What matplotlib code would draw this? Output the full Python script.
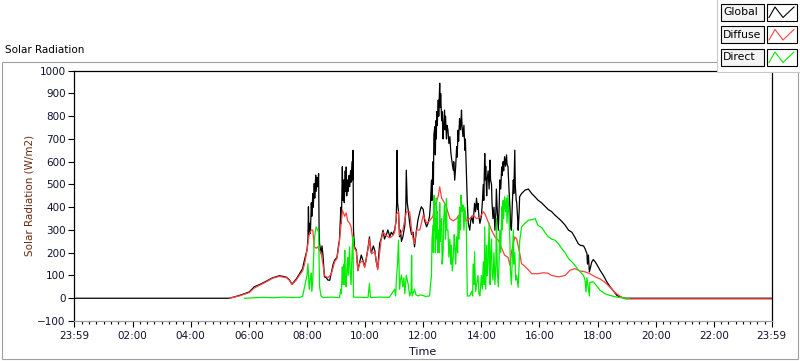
import numpy as np
import matplotlib.pyplot as plt
from matplotlib.patches import Rectangle
from matplotlib.lines import Line2D

plt.rcParams['font.family'] = ['DejaVu Sans']

# values (W/m2), times of day
glob_t = ["00:00", "05:20", "05:40", "05:51", "06:01", "06:11", "06:22", "06:36", "06:49", "07:03",
          "07:13", "07:18", "07:24", "07:29", "07:38", "07:44", "07:51", "07:55", "08:00", "08:02",
          "08:03", "08:04", "08:06", "08:07", "08:09", "08:10", "08:12", "08:13", "08:15", "08:16",
          "08:18", "08:19", "08:21", "08:22", "08:24", "08:25", "08:26", "08:29", "08:31", "08:33",
          "08:36", "08:40", "08:43", "08:47", "08:50", "08:54", "08:57", "09:02", "09:05", "09:07",
          "09:10", "09:11", "09:13", "09:14", "09:16", "09:17", "09:19", "09:20", "09:21", "09:22",
          "09:24", "09:25", "09:27", "09:28", "09:30", "09:31", "09:33", "09:34", "09:35", "09:36",
          "09:38", "09:42", "09:45", "09:49", "09:52", "09:55", "09:59", "10:02", "10:06", "10:09",
          "10:11", "10:13", "10:17", "10:20", "10:23", "10:26", "10:30", "10:33", "10:37", "10:40",
          "10:44", "10:47", "10:51", "10:54", "10:57", "11:01", "11:04", "11:05", "11:06", "11:07",
          "11:09", "11:11", "11:13", "11:15", "11:18", "11:22", "11:24", "11:25", "11:27", "11:29",
          "11:32", "11:34", "11:36", "11:39", "11:42", "11:45", "11:49", "11:53", "11:56", "12:00",
          "12:03", "12:07", "12:10", "12:13", "12:15", "12:17", "12:18", "12:20", "12:21", "12:22",
          "12:24", "12:25", "12:26", "12:27", "12:28", "12:29", "12:31", "12:32", "12:34", "12:35",
          "12:36", "12:38", "12:39", "12:41", "12:42", "12:44", "12:45", "12:46", "12:48", "12:49",
          "12:51", "12:53", "12:55", "12:57", "12:58", "13:00", "13:02", "13:03", "13:05", "13:07",
          "13:09", "13:10", "13:12", "13:13", "13:15", "13:17", "13:19", "13:20", "13:22", "13:24",
          "13:26", "13:27", "13:29", "13:31", "13:33", "13:36", "13:38", "13:40", "13:43", "13:46",
          "13:48", "13:50", "13:52", "13:53", "13:55", "13:57", "14:00", "14:02", "14:04", "14:05",
          "14:07", "14:08", "14:09", "14:11", "14:12", "14:14", "14:16", "14:18", "14:19", "14:21",
          "14:22", "14:24", "14:26", "14:28", "14:30", "14:31", "14:33", "14:35", "14:37", "14:38",
          "14:40", "14:42", "14:43", "14:45", "14:46", "14:48", "14:50", "14:52", "14:53", "14:55",
          "14:57", "14:59", "15:00", "15:02", "15:04", "15:06", "15:07", "15:09", "15:10", "15:12",
          "15:13", "15:15", "15:16", "15:18", "15:19", "15:23", "15:30", "15:37", "15:44", "15:51",
          "15:57", "16:05", "16:11", "16:18", "16:25", "16:32", "16:39", "16:46", "16:53", "17:00",
          "17:07", "17:13", "17:20", "17:24", "17:31", "17:34", "17:38", "17:39", "17:41", "17:43",
          "17:48", "17:51", "17:55", "17:58", "18:05", "18:12", "18:19", "18:26", "18:33", "18:40",
          "18:47", "18:57", "19:07", "23:59"]
glob_v = [0, 0, 12, 20, 28, 50, 60, 75, 90, 99,
          95, 92, 80, 62, 85, 106, 130, 170, 211, 260,
          402, 280, 330, 286, 420, 360, 460, 400, 504, 440,
          541, 470, 530, 490, 548, 300, 240, 197, 230, 190,
          94, 90, 80, 79, 110, 150, 167, 180, 230, 255,
          400, 330, 578, 430, 520, 420, 560, 470, 577, 450,
          520, 470, 540, 490, 560, 510, 600, 520, 650, 300,
          226, 211, 123, 160, 190, 170, 140, 170, 220, 270,
          220, 200, 230, 210, 160, 130, 240, 260, 299, 260,
          280, 300, 270, 290, 280, 300, 340, 416, 650, 420,
          380, 270, 300, 250, 270, 320, 400, 563, 420, 387,
          330, 300, 280, 290, 226, 280, 343, 380, 402, 390,
          340, 314, 330, 360, 420, 519, 430, 600, 500, 720,
          754, 630, 780, 700, 820, 760, 871, 800, 945, 840,
          900, 780, 820, 700, 760, 827, 740, 800, 700, 760,
          740, 680, 710, 640, 622, 590, 563, 600, 519, 580,
          666, 620, 739, 690, 790, 740, 827, 760, 710, 760,
          650, 700, 560, 420, 329, 299, 340, 360, 329, 417,
          380, 440, 390, 417, 360, 329, 360, 420, 500, 430,
          636, 520, 580, 450, 520, 560, 480, 607, 520, 500,
          420, 350, 400, 299, 380, 480, 380, 299, 420, 520,
          480, 577, 540, 600, 560, 622, 580, 630, 590, 577,
          480, 400, 330, 299, 420, 520, 460, 651, 500, 430,
          420, 350, 299, 380, 446, 460, 475, 480, 460, 445,
          431, 418, 405, 390, 381, 365, 352, 338, 321, 299,
          290, 268, 240, 233, 230, 218, 196, 150, 190, 116,
          160, 170, 160, 150, 123, 100, 72, 50, 31, 12,
          5, 0, 0, 0]

diff_t = ["05:20", "05:40", "05:51", "06:01", "06:11", "06:22", "06:36", "06:49", "07:03", "07:13",
          "07:18", "07:24", "07:29", "07:38", "07:44", "07:51", "07:55", "08:00", "08:05", "08:09",
          "08:12", "08:15", "08:19", "08:22", "08:26", "08:29", "08:33", "08:36", "08:43", "08:50",
          "08:57", "09:02", "09:07", "09:13", "09:18", "09:21", "09:24", "09:28", "09:31", "09:35",
          "09:38", "09:42", "09:45", "09:49", "09:55", "09:59", "10:02", "10:09", "10:13", "10:20",
          "10:26", "10:33", "10:37", "10:44", "10:51", "10:57", "11:01", "11:05", "11:09", "11:11",
          "11:18", "11:25", "11:32", "11:36", "11:39", "11:42", "11:46", "11:53", "12:00", "12:07",
          "12:13", "12:20", "12:24", "12:27", "12:31", "12:34", "12:38", "12:41", "12:48", "12:55",
          "13:02", "13:09", "13:15", "13:22", "13:26", "13:29", "13:36", "13:43", "13:50", "13:57",
          "14:04", "14:07", "14:14", "14:21", "14:28", "14:35", "14:42", "14:48", "14:55", "14:59",
          "15:02", "15:09", "15:13", "15:16", "15:19", "15:23", "15:30", "15:37", "15:44", "15:57",
          "16:08", "16:18", "16:25", "16:39", "16:53", "17:03", "17:13", "17:24", "17:34", "17:44",
          "17:55", "18:05", "18:15", "18:26", "18:36", "18:47", "18:57", "23:59"]
diff_v = [0, 10, 18, 25, 45, 57, 72, 88, 96, 92,
          90, 78, 60, 80, 100, 120, 150, 211, 285, 300,
          300, 226, 220, 226, 210, 200, 150, 100, 90, 105,
          160, 175, 250, 387, 360, 375, 340, 330, 314, 250,
          220, 205, 120, 155, 165, 135, 165, 260, 195, 205,
          125, 255, 290, 275, 265, 275, 290, 370, 380, 277,
          300, 380, 380, 300, 262, 240, 300, 300, 365, 330,
          340, 360, 410, 420, 450, 490, 440, 430, 400, 350,
          340, 350, 370, 395, 380, 340, 350, 365, 350, 355,
          380, 373, 336, 299, 270, 255, 220, 189, 180, 145,
          200, 270, 260, 230, 200, 152, 140, 125, 108, 108,
          112, 110, 100, 94, 100, 123, 130, 120, 116, 108,
          94, 85, 70, 48, 25, 8, -3, -3]

dir_t = ["05:51", "06:10", "06:30", "06:50", "07:10", "07:30", "07:45", "07:51", "07:55", "08:00",
         "08:02", "08:04", "08:05", "08:07", "08:09", "08:10", "08:12", "08:14", "08:15", "08:17",
         "08:19", "08:22", "08:24", "08:26", "08:29", "08:33", "08:50", "09:07", "09:10", "09:11",
         "09:13", "09:14", "09:16", "09:17", "09:18", "09:19", "09:21", "09:22", "09:24", "09:25",
         "09:28", "09:29", "09:31", "09:33", "09:35", "09:36", "09:50", "10:06", "10:09", "10:11",
         "10:30", "10:50", "11:01", "11:03", "11:05", "11:07", "11:09", "11:11", "11:13", "11:15",
         "11:18", "11:20", "11:22", "11:25", "11:29", "11:32", "11:35", "11:36", "11:37", "11:42",
         "11:45", "11:49", "11:55", "12:05", "12:13", "12:15", "12:17", "12:18", "12:20", "12:21",
         "12:22", "12:23", "12:24", "12:25", "12:27", "12:28", "12:29", "12:30", "12:31", "12:33",
         "12:34", "12:35", "12:36", "12:38", "12:39", "12:41", "12:42", "12:44", "12:46", "12:48",
         "12:49", "12:51", "12:53", "12:55", "12:57", "12:58", "13:00", "13:02", "13:04", "13:05",
         "13:07", "13:09", "13:11", "13:12", "13:14", "13:15", "13:17", "13:18", "13:20", "13:22",
         "13:24", "13:26", "13:29", "13:31", "13:36", "13:40", "13:42", "13:43", "13:45", "13:46",
         "13:48", "13:50", "13:53", "13:55", "13:57", "14:00", "14:02", "14:04", "14:06", "14:07",
         "14:09", "14:11", "14:12", "14:14", "14:16", "14:18", "14:19", "14:21", "14:22", "14:24",
         "14:26", "14:28", "14:30", "14:31", "14:33", "14:35", "14:37", "14:38", "14:40", "14:42",
         "14:43", "14:45", "14:46", "14:48", "14:50", "14:52", "14:53", "14:55", "14:57", "14:59",
         "15:00", "15:02", "15:04", "15:06", "15:07", "15:09", "15:11", "15:13", "15:16", "15:18",
         "15:19", "15:23", "15:30", "15:37", "15:44", "15:51", "15:57", "16:05", "16:11", "16:18",
         "16:25", "16:32", "16:39", "16:46", "16:53", "17:00", "17:07", "17:13", "17:20", "17:24",
         "17:31", "17:34", "17:36", "17:38", "17:43", "17:44", "17:51", "17:58", "18:05", "18:15",
         "18:26", "18:40", "18:57", "19:05"]
dir_v = [0, 2, 4, 2, 5, 3, 4, 8, 50, 100,
         152, 60, 40, 90, 110, 30, 80, 200, 255, 290,
         314, 300, 290, 50, 10, 3, 5, 3, 40, 20,
         138, 60, 150, 60, 211, 90, 50, 120, 180, 100,
         226, 120, 60, 200, 270, 5, 4, 3, 65, 3,
         5, 4, 40, 10, 100, 152, 255, 40, 80, 101,
         50, 90, 20, 101, 60, 10, 30, 189, 10, 40,
         15, 10, 15, 8, 10, 60, 100, 250, 321, 200,
         453, 300, 350, 200, 440, 260, 380, 200, 300, 200,
         420, 250, 330, 350, 150, 200, 330, 420, 260, 438,
         300, 300, 180, 260, 150, 233, 120, 180, 280, 240,
         150, 270, 200, 360, 260, 400, 300, 453, 380, 410,
         300, 400, 310, 10, 10, 30, 10, 150, 60, 204,
         30, 60, 100, 20, 10, 100, 40, 160, 60, 314,
         40, 233, 100, 150, 330, 60, 180, 260, 120, 80,
         200, 60, 150, 350, 120, 50, 200, 300, 200, 402,
         300, 430, 350, 446, 380, 440, 330, 453, 350, 250,
         120, 60, 180, 300, 150, 200, 80, 100, 48, 150,
         250, 314, 330, 343, 345, 350, 320, 310, 290, 270,
         260, 255, 240, 218, 200, 174, 160, 145, 125, 116,
         100, 80, 28, 90, 10, 70, 72, 55, 35, 20,
         12, 5, 0, 0]

tick_pos = [-1, 120, 240, 360, 480, 600, 720, 840, 960, 1080, 1200, 1320, 1439]
tick_lab = ["23:59", "02:00", "04:00", "06:00", "08:00", "10:00", "12:00",
            "14:00", "16:00", "18:00", "20:00", "22:00", "23:59"]


def to_min(labels):
    return [int(s[:2]) * 60 + int(s[3:]) for s in labels]


W, H = 800, 361
fig = plt.figure(figsize=(8, 3.61), dpi=100)


def frac(x, y):
    return x / W, 1 - y / H


def box(x0, y0, x1, y1, ec, fc='white', lw=0.8, z=1):
    r = Rectangle(frac(x0, y1), (x1 - x0) / W, (y1 - y0) / H, transform=fig.transFigure,
                  edgecolor=ec, facecolor=fc, lw=lw, zorder=z)
    fig.add_artist(r)


# outer panel
box(1.5, 62, 797.5, 358.5, '#a0a0a0', fc='none')

ax = fig.add_axes([74 / W, (H - 321) / H, (771.5 - 74) / W, (321 - 70.7) / H])
ax.plot(to_min(glob_t), glob_v, color='black', lw=0.9)
ax.plot(to_min(diff_t), diff_v, color='#ff4040', lw=0.9)
ax.plot(to_min(dir_t), dir_v, color='#00ee00', lw=0.9)

ax.set_xlim(-1, 1439)
ax.set_ylim(-100, 1000)
ax.set_xticks(tick_pos)
ax.set_xticklabels(tick_lab)
ax.set_xticks([m for m in range(15, 1439, 15) if m % 120 != 0], minor=True)
ax.set_yticks(range(-100, 1001, 100))
ax.tick_params(axis='x', which='major', length=4, width=0.8, pad=3, labelsize=7.5,
               labelcolor='#101030')
ax.tick_params(axis='x', which='minor', length=2, width=0.8)
ax.tick_params(axis='y', length=4, width=0.8, pad=2, labelsize=7.5, labelcolor='#101030')
for s in ['left', 'top', 'right']:
    ax.spines[s].set_color('black')
    ax.spines[s].set_linewidth(0.9)
ax.spines['bottom'].set_color('#a0a0a0')
ax.spines['bottom'].set_linewidth(0.9)

ax.set_ylabel('Solar Radiation (W/m2)', fontsize=7.5, color='#6b2a10')
ax.yaxis.set_label_coords(-0.056, 0.5)
ax.set_xlabel('Time', fontsize=8, color='#101030', va='top')
ax.xaxis.set_label_coords(0.5, -0.105)

fig.text(5 / W, 1 - 50 / H, 'Solar Radiation', fontsize=7.5, va='center', ha='left')

# legend panel
box(717, -2, 800, 71.5, '#c8c8c8', z=5)
names = ['Global', 'Diffuse', 'Direct']
colors = ['black', '#ff4040', '#00ee00']
for i, (nm, c) in enumerate(zip(names, colors)):
    y0 = 4 + i * 22.5
    y1 = y0 + 16.5
    box(720.5, y0, 763.5, y1, 'black', fc='#f4f4f4', z=6)
    box(766.5, y0, 796.5, y1, 'black', fc='white', z=6)
    fig.text(frac(723, 0)[0], frac(0, (y0 + y1) / 2)[1], nm, fontsize=7.8,
             va='center', ha='left', zorder=7)
    xs = [769, 775, 783, 794]
    ys = [y1 - 3, y0 + 3, y1 - 3, y0 + 3]
    fig.add_artist(Line2D([x / W for x in xs], [1 - y / H for y in ys],
                          transform=fig.transFigure, color=c, lw=0.8, zorder=7))

fig.savefig('out.png', dpi=100)
